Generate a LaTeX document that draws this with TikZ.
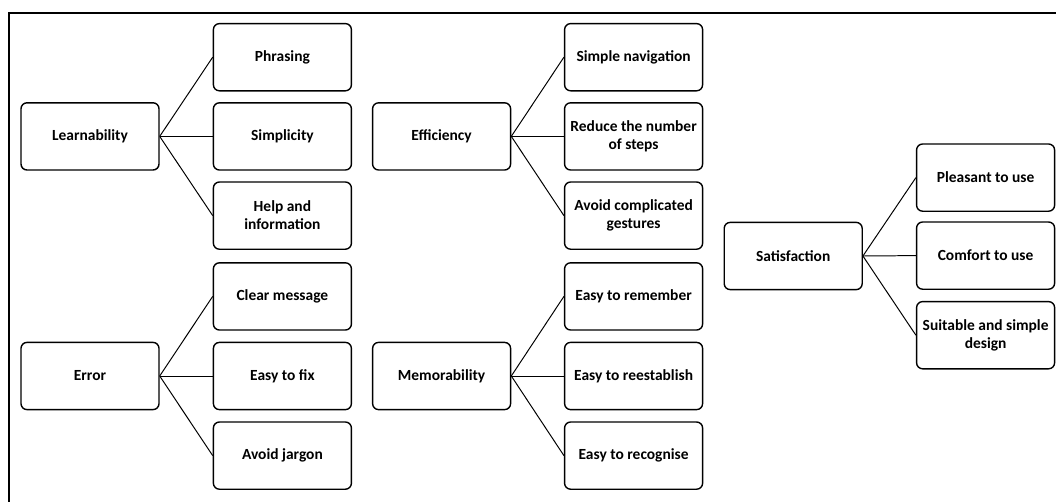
\documentclass[tikz,border=0pt]{standalone}
\usepackage{fontspec}
\setmainfont{Carlito}
\usepackage{tikz}
\tikzset{
    box/.style={shape=rectangle, draw=black, line width=1pt, rounded corners=1.5mm,
        minimum width=3.45cm, minimum height=1.68cm, align=center,
        font=\fontsize{11}{12.8}\selectfont\bfseries},
    link/.style={draw=black, line width=0.7pt}}

\begin{document}
\begin{tikzpicture}

        \useasboundingbox (0,0) rectangle (26.4,-12.55);
        \draw[line width=1.8pt] (26.4,-0.325) -- (0.225,-0.325) -- (0.225,-12.55);

            % learnability
            \node[box] (L) at (2.25,-3.41) {Learnability};
            \node[box] (L1) at (7.06,-1.43) {Phrasing};
            \node[box] (L2) at (7.06,-3.41) {Simplicity};
            \node[box] (L3) at (7.06,-5.39) {Help and\\information};

            % error
            \node[box] (E) at (2.25,-9.4) {Error};
            \node[box] (E1) at (7.06,-7.41) {Clear message};
            \node[box] (E2) at (7.06,-9.4) {Easy to fix};
            \node[box] (E3) at (7.06,-11.39) {Avoid jargon};

            % efficiency
            \node[box] (F) at (11.04,-3.41) {Efficiency};
            \node[box] (F1) at (15.84,-1.43) {Simple navigation};
            \node[box] (F2) at (15.84,-3.41) {Reduce the number\\of steps};
            \node[box] (F3) at (15.84,-5.39) {Avoid complicated\\gestures};

            % memorability
            \node[box] (M) at (11.04,-9.4) {Memorability};
            \node[box] (M1) at (15.84,-7.41) {Easy to remember};
            \node[box] (M2) at (15.84,-9.4) {Easy to reestablish};
            \node[box] (M3) at (15.84,-11.39) {Easy to recognise};

            % satisfaction
            \node[box] (S) at (19.83,-6.4) {Satisfaction};
            \node[box] (S1) at (24.64,-4.44) {Pleasant to use};
            \node[box] (S2) at (24.64,-6.39) {Comfort to use};
            \node[box] (S3) at (24.64,-8.38) {Suitable and simple\\design};

            \draw[link] (L.east) -- (L1.west);
            \draw[link] (L.east) -- (L2.west);
            \draw[link] (L.east) -- (L3.west);
            \draw[link] (E.east) -- (E1.west);
            \draw[link] (E.east) -- (E2.west);
            \draw[link] (E.east) -- (E3.west);
            \draw[link] (F.east) -- (F1.west);
            \draw[link] (F.east) -- (F2.west);
            \draw[link] (F.east) -- (F3.west);
            \draw[link] (M.east) -- (M1.west);
            \draw[link] (M.east) -- (M2.west);
            \draw[link] (M.east) -- (M3.west);
            \draw[link] (S.east) -- (S1.west);
            \draw[link] (S.east) -- (S2.west);
            \draw[link] (S.east) -- (S3.west);

        \end{tikzpicture}
\end{document}
